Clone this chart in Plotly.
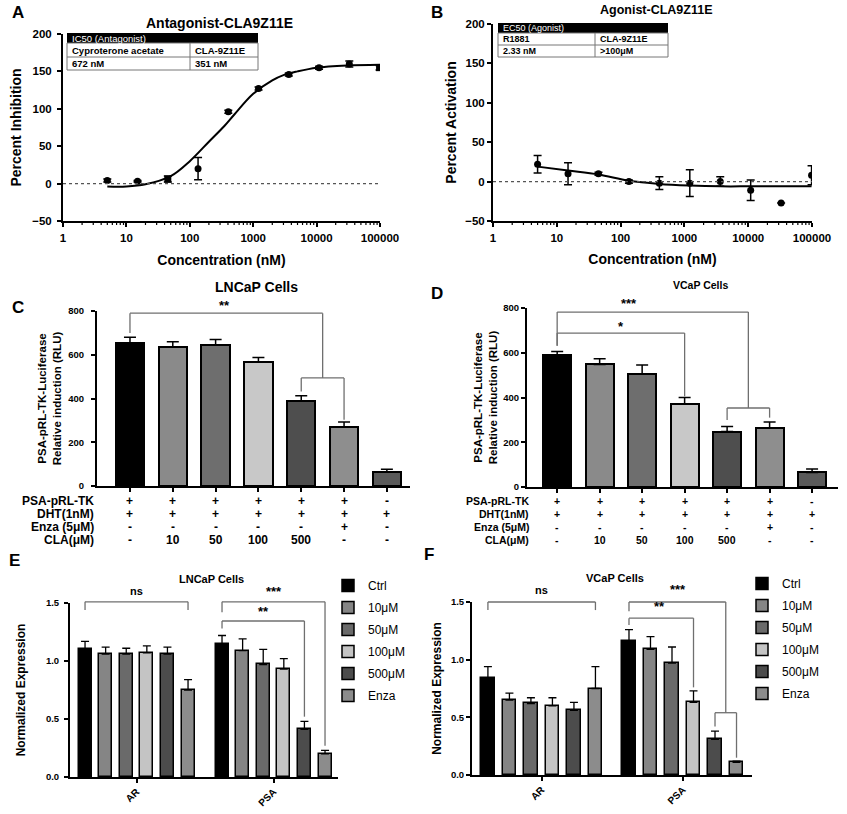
import math
import plotly.graph_objects as go

W, H = 847, 814
def px(x): return x / W
def py(y): return 1 - y / H

FONT = "Liberation Sans, Arial, sans-serif"

# ---------------- DATA ----------------
conc = [5, 15, 45, 135, 405, 1215, 3645, 10935, 32805, 98415]
inhib = [4, 3, 6, 20, 96, 127, 146, 155, 160, 155]
inhib_err = [2, 1, 4, 15, 2, 2, 2, 2, 4, 3]
inhib_sym = ["circle", "circle", "square", "circle", "circle", "circle", "circle", "circle", "circle", "square"]
fit_a_x = [5, 10, 20, 50, 100, 200, 351, 500, 1000, 2000, 3000, 5000, 10000, 30000, 100000]
fit_a_y = [-4, -4, -1, 10, 30, 56, 77, 92, 120, 138, 145, 150, 155, 158, 159]

activ = [22, 10, 10, 0, -2, -2, 0, -11, -27, 8]
activ_err = [11, 14, 2, 2, 8, 17, 6, 13, 0, 12]
fit_b_x = [5, 15, 45, 135, 405, 1215, 3645, 10935, 32805, 98415]
fit_b_y = [19, 14, 9, 1, -3, -5, -6, -6, -6, -6]

luc_rows = ["PSA-pRL-TK", "DHT(1nM)", "Enza (5μM)", "CLA(μM)"]
luc_table = [
    ["+", "+", "+", "+", "+", "+", "-"],
    ["+", "+", "+", "+", "+", "+", "+"],
    ["-", "-", "-", "-", "-", "+", "-"],
    ["-", "10", "50", "100", "500", "-", "-"],
]
lncap_luc = [655, 635, 645, 568, 390, 268, 65]
lncap_luc_err = [25, 25, 25, 20, 22, 25, 12]
vcap_luc = [588, 548, 505, 370, 248, 265, 65]
vcap_luc_err = [18, 25, 40, 30, 22, 25, 15]
luc_colors = ["#000000", "#8a8a8a", "#6e6e6e", "#c8c8c8", "#4e4e4e", "#8e8e8e", "#5a5a5a"]

genes = ["AR", "PSA"]
series = ["Ctrl", "10μM", "50μM", "100μM", "500μM", "Enza"]
series_colors = ["#000000", "#858585", "#6a6a6a", "#c4c4c4", "#4c4c4c", "#8c8c8c"]
lncap_expr = {  # [AR, PSA]
    "Ctrl": [1.10, 1.15], "10μM": [1.06, 1.09], "50μM": [1.06, 0.97],
    "100μM": [1.07, 0.93], "500μM": [1.06, 0.41], "Enza": [0.75, 0.20]}
lncap_expr_err = {
    "Ctrl": [0.07, 0.07], "10μM": [0.06, 0.10], "50μM": [0.05, 0.13],
    "100μM": [0.06, 0.09], "500μM": [0.06, 0.07], "Enza": [0.09, 0.03]}
vcap_expr = {
    "Ctrl": [0.84, 1.16], "10μM": [0.65, 1.09], "50μM": [0.62, 0.97],
    "100μM": [0.60, 0.63], "500μM": [0.56, 0.31], "Enza": [0.75, 0.11]}
vcap_expr_err = {
    "Ctrl": [0.10, 0.10], "10μM": [0.06, 0.11], "50μM": [0.05, 0.14],
    "100μM": [0.07, 0.10], "500μM": [0.07, 0.07], "Enza": [0.19, 0.01]}

E_OFF, F_OFF = 6.65, 6.56

# ---------------- geometry (pixel boxes of each panel) ----------------
AX = {
    "3": dict(xd=(97, 410), xr=(-0.77, 6.54), yd=(486, 311), yr=(0, 800)),
    "4": dict(xd=(527, 838), xr=(-0.71, 6.61), yd=(487, 308), yr=(0, 800)),
    "5": dict(xd=(70, 338), xr=(-0.73, 12.28), yd=(777, 603), yr=(0, 1.5)),
    "6": dict(xd=(472, 752), xr=(-0.74, 12.28), yd=(775, 602), yr=(0, 1.5)),
}
LOGX = {"A": (63, 380, 221), "B": (493, 812, 221)}   # x start, x end, axis-line y (pixels)

def to_paper(k, x, y):
    a = AX[k]
    xp = a["xd"][0] + (x - a["xr"][0]) / (a["xr"][1] - a["xr"][0]) * (a["xd"][1] - a["xd"][0])
    yp = a["yd"][0] + (y - a["yr"][0]) / (a["yr"][1] - a["yr"][0]) * (a["yd"][1] - a["yd"][0])
    return px(xp), py(yp)

# ---------------- FIGURE ----------------
fig = go.Figure()
shapes = []
anns = []

def ann(x, y, text, size=11, xanchor="center", yanchor="middle", bold=True, color="black",
        xref="paper", yref="paper", textangle=0):
    anns.append(dict(x=x, y=y, xref=xref, yref=yref, text=text, showarrow=False,
                     xanchor=xanchor, yanchor=yanchor, textangle=textangle,
                     font=dict(family=FONT, size=size, color=color,
                               weight="bold" if bold else "normal")))

def seg(k, pts, color="#6f6f6f", width=1.3):
    pp = [to_paper(k, x, y) for x, y in pts]
    for (x0, y0), (x1, y1) in zip(pp[:-1], pp[1:]):
        shapes.append(dict(type="line", xref="paper", yref="paper", x0=x0, y0=y0, x1=x1, y1=y1,
                           line=dict(color=color, width=width)))

def sig(k, x, y, text, size=11):
    xx, yy = to_paper(k, x, y)
    ann(xx, yy, text, size=size)

def tf(size):
    return dict(family=FONT, size=size, color="black", weight="bold")

axis_common = dict(showline=True, linecolor="black", linewidth=2, ticks="outside",
                   ticklen=4, tickwidth=1.5, tickcolor="black", showgrid=False, zeroline=False,
                   automargin=False, tickfont=tf(11.5))

# ---- Panel A ----
fig.add_trace(go.Scatter(x=fit_a_x, y=fit_a_y, mode="lines", line=dict(color="black", width=2, shape="spline"),
                         xaxis="x", yaxis="y", showlegend=False))
fig.add_trace(go.Scatter(x=conc, y=inhib, mode="markers",
                         marker=dict(color="black", size=7, symbol=inhib_sym),
                         error_y=dict(type="data", array=inhib_err, color="black", thickness=1.5, width=4),
                         xaxis="x", yaxis="y", showlegend=False))
# ---- Panel B ----
fig.add_trace(go.Scatter(x=fit_b_x, y=fit_b_y, mode="lines", line=dict(color="black", width=2, shape="spline"),
                         xaxis="x2", yaxis="y2", showlegend=False))
fig.add_trace(go.Scatter(x=conc, y=activ, mode="markers",
                         marker=dict(color="black", size=7),
                         error_y=dict(type="data", array=activ_err, color="black", thickness=1.5, width=4),
                         xaxis="x2", yaxis="y2", showlegend=False))
for xa, ya in (("x", "y"), ("x2", "y2")):
    shapes.append(dict(type="line", xref=xa + " domain", yref=ya, x0=0, x1=1, y0=0, y1=0,
                       line=dict(color="#555555", width=1.3, dash="dot")))

# minor log ticks (2..9 within each decade) drawn below the log x-axes
minor_vals = [m * 10 ** e for e in range(5) for m in range(2, 10)]
for x0p, x1p, yax in LOGX.values():
    for v in minor_vals:
        xx = x0p + math.log10(v) / 5 * (x1p - x0p)
        shapes.append(dict(type="line", xref="paper", yref="paper", x0=px(xx), x1=px(xx),
                           y0=py(yax + 1), y1=py(yax + 4), line=dict(color="black", width=1.2)))

# ---- Panels C & D (luciferase) ----
pos7 = list(range(len(lncap_luc)))
for vals, errs, xa, ya in ((lncap_luc, lncap_luc_err, "x3", "y3"), (vcap_luc, vcap_luc_err, "x4", "y4")):
    fig.add_trace(go.Bar(x=pos7, y=vals, width=0.66, xaxis=xa, yaxis=ya, showlegend=False,
                         marker=dict(color=luc_colors, line=dict(color="black", width=2)),
                         error_y=dict(type="data", symmetric=False, array=errs, arrayminus=[0] * len(errs),
                                      color="black", thickness=1.5, width=6)))

# ---- Panels E & F (qPCR) ----
def group_x(offset, gi, si):
    return gi * offset + si

for expr, errd, xa, ya, off, leg in (
        (lncap_expr, lncap_expr_err, "x5", "y5", E_OFF, "legend"),
        (vcap_expr, vcap_expr_err, "x6", "y6", F_OFF, "legend2")):
    for si, s in enumerate(series):
        fig.add_trace(go.Bar(
            x=[group_x(off, gi, si) for gi in range(len(genes))], y=expr[s], width=0.63,
            name=s, xaxis=xa, yaxis=ya, legend=leg, legendgroup=f"{leg}_{s}",
            marker=dict(color=series_colors[si], line=dict(color="black", width=1.5)),
            error_y=dict(type="data", symmetric=False, array=errd[s], arrayminus=[0, 0],
                         color="black", thickness=1.3, width=4)))

# ---------------- LAYOUT ----------------
def xdom(k):
    return [AX[k]["xd"][0] / W, AX[k]["xd"][1] / W]

def ydom(k):
    return [py(AX[k]["yd"][0]), py(AX[k]["yd"][1])]

log_ticks = [1, 10, 100, 1000, 10000, 100000]
log_text = ["1", "10", "100", "1000", "10000", "100000"]

layout = dict(
    width=W, height=H, margin=dict(l=0, r=0, t=0, b=0, autoexpand=False),
    paper_bgcolor="white", plot_bgcolor="white", bargap=0,
    font=dict(family=FONT, color="black"),
    xaxis=dict(axis_common, type="log", domain=[LOGX["A"][0] / W, LOGX["A"][1] / W], range=[0, 5], anchor="y",
               tickvals=log_ticks, ticktext=log_text, ticklabelstandoff=1,
               title=dict(text="Concentration (nM)", font=tf(14), standoff=12)),
    yaxis=dict(axis_common, domain=[py(221), py(34)], range=[-50, 200], anchor="x",
               tickvals=[-50, 0, 50, 100, 150, 200], ticklabelstandoff=3,
               title=dict(text="Percent Inhibition", font=tf(14), standoff=7)),
    xaxis2=dict(axis_common, type="log", domain=[LOGX["B"][0] / W, LOGX["B"][1] / W], range=[0, 5], anchor="y2",
                tickvals=log_ticks, ticktext=log_text, ticklabelstandoff=1,
                title=dict(text="Concentration (nM)", font=tf(14), standoff=11)),
    yaxis2=dict(axis_common, domain=[py(221), py(24)], range=[-50, 200], anchor="x2",
                tickvals=[-50, 0, 50, 100, 150, 200],
                title=dict(text="Percent Activation", font=tf(14), standoff=5)),
    xaxis3=dict(axis_common, domain=xdom("3"), range=list(AX["3"]["xr"]), anchor="y3",
                tickvals=pos7, showticklabels=False),
    yaxis3=dict(axis_common, domain=ydom("3"), range=list(AX["3"]["yr"]), anchor="x3",
                tickvals=[0, 200, 400, 600, 800], tickfont=tf(9.5), ticklabelstandoff=5,
                title=dict(text="PSA-pRL-TK-Luciferase<br>Relative induction (RLU)",
                           font=tf(11.5), standoff=4)),
    xaxis4=dict(axis_common, domain=xdom("4"), range=list(AX["4"]["xr"]), anchor="y4",
                tickvals=pos7, showticklabels=False),
    yaxis4=dict(axis_common, domain=ydom("4"), range=list(AX["4"]["yr"]), anchor="x4",
                tickvals=[0, 200, 400, 600, 800], tickfont=tf(9.5),
                title=dict(text="PSA-pRL-TK-Luciferase<br>Relative induction (RLU)",
                           font=tf(11.5), standoff=3)),
    xaxis5=dict(axis_common, domain=xdom("5"), range=list(AX["5"]["xr"]), anchor="y5",
                tickvals=[2.5, E_OFF + 2.5], ticktext=genes, tickangle=-45, tickfont=tf(10),
                ticklabelstandoff=-1),
    yaxis5=dict(axis_common, domain=ydom("5"), range=list(AX["5"]["yr"]), anchor="x5",
                tickvals=[0, 0.5, 1.0, 1.5], ticktext=["0.0", "0.5", "1.0", "1.5"], tickfont=tf(9.5),
                ticklabelstandoff=3,
                title=dict(text="Normalized Expression", font=tf(12), standoff=18)),
    xaxis6=dict(axis_common, domain=xdom("6"), range=list(AX["6"]["xr"]), anchor="y6",
                tickvals=[2.5, F_OFF + 2.5], ticktext=genes, tickangle=-45, tickfont=tf(10),
                ticklabelstandoff=-1),
    yaxis6=dict(axis_common, domain=ydom("6"), range=list(AX["6"]["yr"]), anchor="x6",
                tickvals=[0, 0.5, 1.0, 1.5], ticktext=["0.0", "0.5", "1.0", "1.5"], tickfont=tf(9.5),
                title=dict(text="Normalized Expression", font=tf(12), standoff=7)),
    legend=dict(x=px(328), y=py(571), xanchor="left", yanchor="top", tracegroupgap=3,
                font=dict(family=FONT, size=12), bgcolor="rgba(0,0,0,0)"),
    legend2=dict(x=px(742), y=py(569), xanchor="left", yanchor="top", tracegroupgap=3,
                 font=dict(family=FONT, size=12), bgcolor="rgba(0,0,0,0)"),
)

# ---------------- Titles & panel letters ----------------
ann(px(220), py(23), "Antagonist-CLA9Z11E", size=14)
ann(px(656), py(10), "Agonist-CLA9Z11E", size=12.5)
ann(px(256), py(287), "LNCaP Cells", size=14)
ann(px(700), py(285), "VCaP Cells", size=10.5)
ann(px(211), py(579), "LNCaP Cells", size=11)
ann(px(615), py(578), "VCaP Cells", size=11)
for letter, x, y in (("A", 18, 12), ("B", 437, 12), ("C", 18, 307), ("D", 437, 293), ("E", 14, 560), ("F", 429, 554)):
    ann(px(x), py(y), letter, size=17)

# ---------------- Inset tables ----------------
def inset(x0, x1, xm, yt, yh, yr, yb, header, r1, r2, size=9.5):
    shapes.append(dict(type="rect", xref="paper", yref="paper", x0=px(x0), x1=px(x1), y0=py(yh), y1=py(yt),
                       fillcolor="black", line=dict(width=0)))
    shapes.append(dict(type="rect", xref="paper", yref="paper", x0=px(x0), x1=px(x1), y0=py(yb), y1=py(yh),
                       fillcolor="rgba(0,0,0,0)", line=dict(color="#777777", width=1)))
    shapes.append(dict(type="line", xref="paper", yref="paper", x0=px(x0), x1=px(x1), y0=py(yr), y1=py(yr),
                       line=dict(color="#777777", width=1)))
    shapes.append(dict(type="line", xref="paper", yref="paper", x0=px(xm), x1=px(xm), y0=py(yb), y1=py(yh),
                       line=dict(color="#777777", width=1)))
    ann(px(x0 + 3), py((yt + yh) / 2), header, size=size, xanchor="left", bold=False, color="white")
    ann(px(x0 + 3), py((yh + yr) / 2), r1[0], size=size, xanchor="left")
    ann(px(xm + 3), py((yh + yr) / 2), r1[1], size=size, xanchor="left")
    ann(px(x0 + 3), py((yr + yb) / 2), r2[0], size=size, xanchor="left")
    ann(px(xm + 3), py((yr + yb) / 2), r2[1], size=size, xanchor="left")

inset(67, 258, 190, 33, 43, 57, 70, "IC50 (Antagonist)", ("Cyproterone acetate", "CLA-9Z11E"), ("672 nM", "351 nM"))
inset(498, 668, 595, 23, 33, 45, 57, "EC50 (Agonist)", ("R1881", "CLA-9Z11E"), ("2.33 nM", ">100μM"), size=9)

# ---------------- Treatment tables (C, D) ----------------
row_y = [501, 514, 527, 540]
for k, lab_x, fs in (("3", 96, 12), ("4", 531, 10.5)):
    for r, (lab, vals) in enumerate(zip(luc_rows, luc_table)):
        ann(px(lab_x), py(row_y[r]), lab, size=fs, xanchor="right")
        for i, v in enumerate(vals):
            ann(to_paper(k, i, 0)[0], py(row_y[r]), v, size=fs)

# ---------------- Significance brackets ----------------
def top(vals, errs, i):
    return vals[i] + errs[i]

# C
seg("3", [(0, top(lncap_luc, lncap_luc_err, 0) + 20), (0, 790), (4.5, 790), (4.5, 494)])
seg("3", [(4, top(lncap_luc, lncap_luc_err, 4) + 20), (4, 494), (5, 494), (5, top(lncap_luc, lncap_luc_err, 5) + 10)])
sig("3", 2.2, 825, "**", 13)
# D
seg("4", [(0, top(vcap_luc, vcap_luc_err, 0) + 25), (0, 782), (4.5, 782), (4.5, 353)])
seg("4", [(4, top(vcap_luc, vcap_luc_err, 4) + 30), (4, 353), (5, 353), (5, top(vcap_luc, vcap_luc_err, 5) + 20)])
seg("4", [(0, top(vcap_luc, vcap_luc_err, 0) + 25), (0, 688), (3, 688), (3, top(vcap_luc, vcap_luc_err, 3) + 5)])
sig("4", 1.7, 818, "***", 13)
sig("4", 1.5, 718, "*", 13)
# E
P = E_OFF
seg("5", [(0, 1.44), (0, 1.51), (5, 1.51), (5, 1.44)])
seg("5", [(P, 1.42), (P, 1.51), (P + 5, 1.51), (P + 5, top(lncap_expr["Enza"], lncap_expr_err["Enza"], 1) + 0.04)])
seg("5", [(P, 1.28), (P, 1.345), (P + 4, 1.345), (P + 4, top(lncap_expr["500μM"], lncap_expr_err["500μM"], 1) + 0.04)])
sig("5", 2.5, 1.6, "ns", 11)
sig("5", P + 2.5, 1.6, "***", 13)
sig("5", P + 2.0, 1.43, "**", 13)
# F
P = F_OFF
seg("6", [(0, 1.43), (0, 1.5), (5, 1.5), (5, 1.43)])
seg("6", [(P, 1.42), (P, 1.5), (P + 4.5, 1.5), (P + 4.5, 0.54)])
seg("6", [(P + 4, top(vcap_expr["500μM"], vcap_expr_err["500μM"], 1) + 0.04), (P + 4, 0.54),
          (P + 5, 0.54), (P + 5, top(vcap_expr["Enza"], vcap_expr_err["Enza"], 1) + 0.03)])
seg("6", [(P, 1.30), (P, 1.36), (P + 3, 1.36), (P + 3, top(vcap_expr["100μM"], vcap_expr_err["100μM"], 1) + 0.03)])
sig("6", 2.5, 1.6, "ns", 11)
sig("6", P + 2.3, 1.61, "***", 13)
sig("6", P + 1.4, 1.46, "**", 13)

layout["shapes"] = shapes
layout["annotations"] = anns
fig.update_layout(**layout)
fig.write_html("out.html", config={"displayModeBar": False},
               post_script="document.body.style.margin='0';document.body.style.padding='0';"
                           "document.body.style.overflow='hidden';")
